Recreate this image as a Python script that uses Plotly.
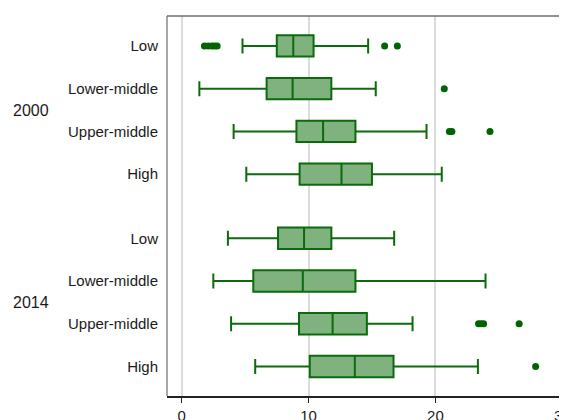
import plotly.graph_objects as go

# ---- data ----
groups = ["2000", "2014"]
categories = ["Low", "Lower-middle", "Upper-middle", "High"]
tick_labels = categories + categories
y_pos = [0, 1, 2, 3, 4.5, 5.5, 6.5, 7.5]

lower_fence = [4.8, 1.4, 4.1, 5.1, 3.65, 2.5, 3.9, 5.8]
q1 = [7.5, 6.7, 9.05, 9.3, 7.6, 5.65, 9.25, 10.1]
median = [8.8, 8.75, 11.15, 12.6, 9.65, 9.55, 11.9, 13.65]
q3 = [10.4, 11.8, 13.7, 15.0, 11.8, 13.7, 14.6, 16.7]
upper_fence = [14.7, 15.3, 19.3, 20.5, 16.75, 23.95, 18.2, 23.35]

outliers = [
    [1.8, 2.1, 2.4, 2.6, 2.8, 16.0, 17.0],
    [20.7],
    [21.1, 21.3, 24.3],
    [],
    [],
    [],
    [23.4, 23.6, 23.8, 26.6],
    [27.9],
]

line_col = "#0b6b0b"
fill_col = "rgba(128,178,128,1)"

fig = go.Figure()
fig.add_trace(go.Box(
    orientation="h",
    y=y_pos,
    q1=q1, median=median, q3=q3,
    lowerfence=lower_fence, upperfence=upper_fence,
    fillcolor=fill_col,
    line=dict(color=line_col, width=2),
    width=0.5,
    whiskerwidth=0.7,
    boxpoints=False,
    showlegend=False,
    hoverinfo="skip",
))

ox, oy = [], []
for yp, vals in zip(y_pos, outliers):
    for v in vals:
        ox.append(v)
        oy.append(yp)
fig.add_trace(go.Scatter(
    x=ox, y=oy, mode="markers",
    marker=dict(color="#006400", size=7),
    showlegend=False, hoverinfo="skip",
))

font = "Liberation Sans, Arial, sans-serif"
group_y = [1.5, 6.0]
for g, gy in zip(groups, group_y):
    fig.add_annotation(text=g, x=-0.339, xref="paper", y=gy, yref="y",
                       showarrow=False, xanchor="center", yanchor="middle",
                       font=dict(size=16, color="#1a1a1a", family=font))

# frame (gray left & top)
fig.add_shape(type="line", xref="paper", yref="paper", x0=0, x1=0, y0=0, y1=1,
              line=dict(color="#8a8a8a", width=1.5), layer="above")
fig.add_shape(type="line", xref="paper", yref="paper", x0=0, x1=1, y0=1, y1=1,
              line=dict(color="#6e6e6e", width=1.5), layer="above")

# the page body adds an 8px offset, so size the figure to fill the rest
fig.update_layout(
    width=559, height=412,
    margin=dict(l=159, r=0, t=8, b=24, autoexpand=False),
    paper_bgcolor="white", plot_bgcolor="white",
    font=dict(family=font, size=15, color="#1a1a1a"),
    xaxis=dict(
        range=[-1.15, 30.37],
        tickvals=[0, 10, 20, 30],
        showgrid=True, gridcolor="#dcdcdc", gridwidth=1.5,
        zeroline=False,
        showline=True, linecolor="#222222", linewidth=1.5,
        ticks="outside", ticklen=5, tickcolor="#222222",
        tickfont=dict(size=15),
        ticklabeloverflow="allow",
        automargin=False,
    ),
    yaxis=dict(
        range=[8.19, -0.70],
        tickvals=y_pos, ticktext=tick_labels,
        showgrid=False, zeroline=False, showline=False,
        ticks="", ticklabelstandoff=8,
        tickfont=dict(size=15),
        automargin=False,
    ),
)

fig.write_html("out.html")
